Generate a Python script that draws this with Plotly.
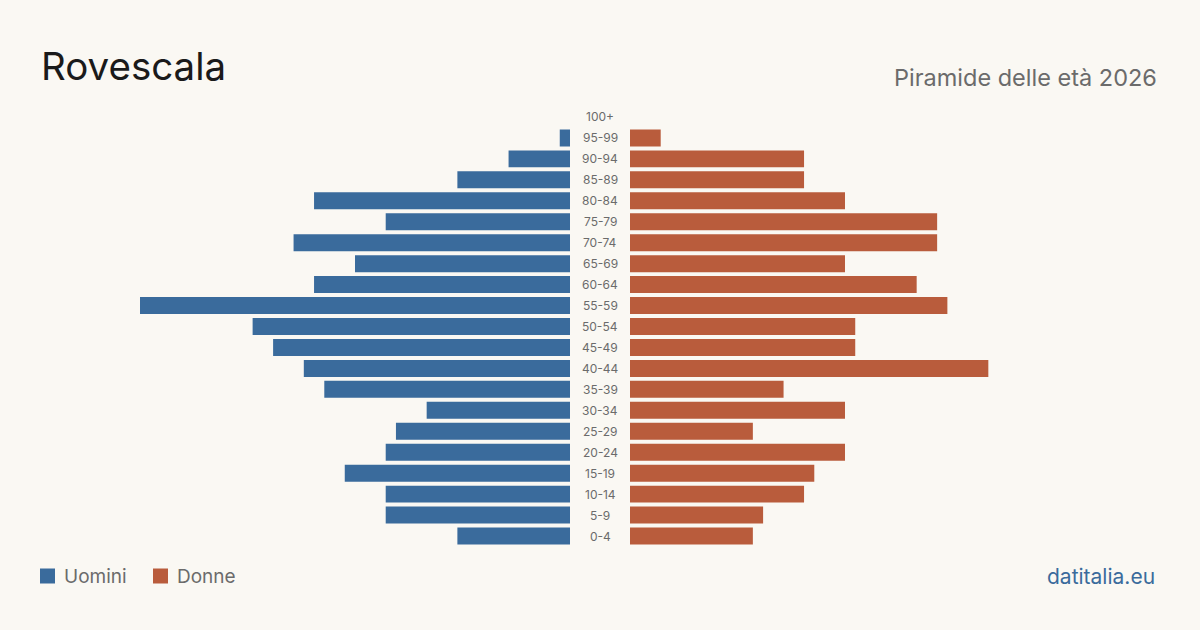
import plotly.graph_objects as go

age_groups = ["0-4", "5-9", "10-14", "15-19", "20-24", "25-29", "30-34", "35-39",
              "40-44", "45-49", "50-54", "55-59", "60-64", "65-69", "70-74", "75-79",
              "80-84", "85-89", "90-94", "95-99", "100+"]
men = [11, 18, 18, 22, 18, 17, 14, 24, 26, 29, 31, 42, 25, 21, 27, 18, 25, 11, 6, 1, 0]
women = [12, 13, 17, 18, 21, 12, 21, 15, 35, 22, 22, 31, 28, 21, 30, 30, 21, 17, 17, 3, 0]
series_names = ["Uomini", "Donne"]

title = "Rovescala"
subtitle = "Piramide delle età 2026"
source = "datitalia.eu"

BG = "#faf8f3"
BLUE = "#3a6b9c"
ORANGE = "#b95c3c"
FONT = "Inter, Noto Sans, sans-serif"

W, H = 1200, 630
xmax = max(max(men), max(women))

def px(x):
    return x / W

def py(y):
    return 1 - y / H

fig = go.Figure()
fig.add_trace(go.Bar(y=age_groups, x=men, orientation="h", name=series_names[0],
                     marker=dict(color=BLUE, line=dict(width=0)),
                     xaxis="x", yaxis="y", hoverinfo="x+y"))
fig.add_trace(go.Bar(y=age_groups, x=women, orientation="h", name=series_names[1],
                     marker=dict(color=ORANGE, line=dict(width=0)),
                     xaxis="x2", yaxis="y", hoverinfo="x+y"))

annotations = []
for g in age_groups:
    annotations.append(dict(x=0.5, xref="paper", y=g, yref="y", text=g,
                            showarrow=False, xanchor="center", yanchor="middle",
                            font=dict(family=FONT, size=12, color="#6b6b6b")))

annotations += [
    dict(x=px(39), y=py(66), xref="paper", yref="paper", text=title, showarrow=False,
         xanchor="left", yanchor="middle", font=dict(family=FONT, size=38.5, color="#1a1a1a")),
    dict(x=px(1159), y=py(77), xref="paper", yref="paper", text=subtitle, showarrow=False,
         xanchor="right", yanchor="middle", font=dict(family=FONT, size=23.5, color="#6b6b6b")),
    dict(x=px(1157), y=py(576), xref="paper", yref="paper", text=source, showarrow=False,
         xanchor="right", yanchor="middle", font=dict(family=FONT, size=21, color=BLUE)),
]

# manual legend
shapes = []
legend_items = [(series_names[0], BLUE, 40), (series_names[1], ORANGE, 153)]
for name, col, x0 in legend_items:
    shapes.append(dict(type="rect", xref="paper", yref="paper",
                       x0=px(x0), x1=px(x0 + 15), y0=py(583.5), y1=py(568.5),
                       fillcolor=col, line=dict(width=0)))
    annotations.append(dict(x=px(x0 + 22), y=py(576), xref="paper", yref="paper",
                            text=name, showarrow=False, xanchor="left", yanchor="middle",
                            font=dict(family=FONT, size=19, color="#6b6b6b")))

ydom = [(H - 546.5) / H, (H - 106.5) / H]

fig.update_layout(
    width=W, height=H,
    paper_bgcolor=BG, plot_bgcolor=BG,
    margin=dict(l=0, r=0, t=0, b=0),
    barmode="overlay", bargap=0.19,
    showlegend=False,
    xaxis=dict(domain=[px(140), px(570)], range=[xmax, 0], showgrid=False,
               zeroline=False, showticklabels=False, showline=False, fixedrange=True),
    xaxis2=dict(domain=[px(630), px(1060)], range=[0, xmax], showgrid=False,
                zeroline=False, showticklabels=False, showline=False, fixedrange=True),
    yaxis=dict(domain=ydom, range=[-0.5, len(age_groups) - 0.5], showgrid=False,
               zeroline=False, showticklabels=False, showline=False,
               categoryorder="array", categoryarray=age_groups, type="category"),
    annotations=annotations,
    shapes=shapes,
    font=dict(family=FONT),
)

fig.write_html("out.html")
